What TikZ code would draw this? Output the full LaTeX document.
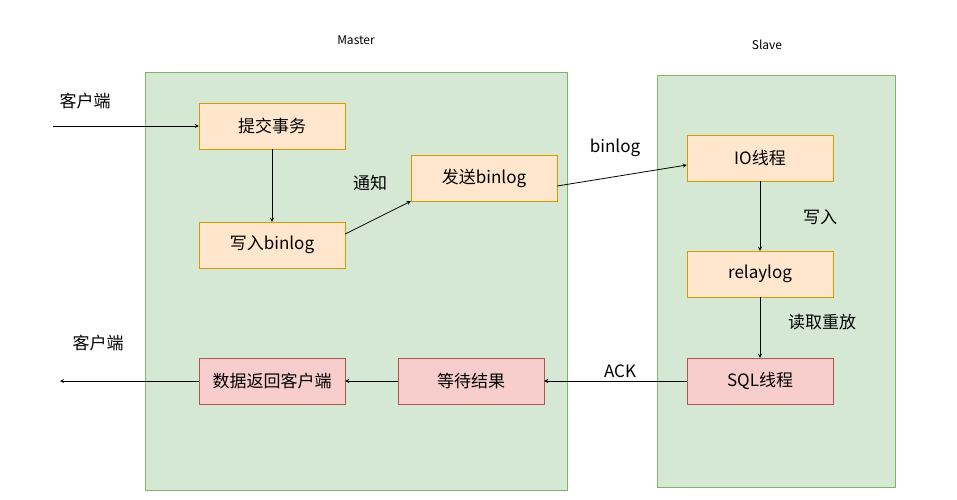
\documentclass[tikz,border=0pt]{standalone}
\usepackage{fontspec}
\setmainfont{Noto Sans CJK SC}
\usetikzlibrary{positioning}
\definecolor{orfill}{HTML}{FFE6CC}
\definecolor{ordraw}{HTML}{D79B00}
\definecolor{rdfill}{HTML}{F8CECC}
\definecolor{rddraw}{HTML}{B85450}
\definecolor{grfill}{HTML}{D5E8D4}
\definecolor{grdraw}{HTML}{82B366}
\tikzset{
  box/.style={draw=ordraw, fill=orfill, minimum width=146pt, minimum height=46pt, font=\fontsize{17}{20}\selectfont},
  redbox/.style={box, draw=rddraw, fill=rdfill},
  lab/.style={font=\fontsize{17}{20}\selectfont},
  arr/.style={->, >=stealth, thick}
}
\begin{document}
\begin{tikzpicture}[x=1pt,y=-1pt]
\useasboundingbox (0,0) rectangle (957,499);

% groups
\draw[draw=grdraw, fill=grfill, thick] (145,72) rectangle (567,490);
\draw[draw=grdraw, fill=grfill, thick] (657,75) rectangle (895,487);
\node[font=\fontsize{12}{14}\selectfont] (master) at (356,40) {Master};
\node[font=\fontsize{12}{14}\selectfont] (slave) at (767,45) {Slave};

% master
\node[box] (commit) at (272,126) {提交事务};
\node[box] (write) at (272,245) {写入binlog};
\node[box] (send) at (484,178) {发送binlog};
\node[redbox] (wait) at (471,381) {等待结果};
\node[redbox] (ret) at (272,381) {数据返回客户端};

% slave
\node[box] (io) at (760,158) {IO线程};
\node[box] (relay) at (760,274) {relaylog};
\node[redbox] (sql) at (760,381) {SQL线程};

% free ends
\coordinate (cin) at (53,126);
\coordinate (cout) at (60,381);

\node[lab] (client1) at (85,101) {客户端};
\node[lab] (client2) at (98,343) {客户端};
\node[lab] (notify) at (370,183) {通知};
\node[lab] (binlog) at (615,148) {binlog};
\node[lab] (wr) at (820,217) {写入};
\node[lab] (replay) at (822,322) {读取重放};
\node[lab] (ack) at (620,371) {ACK};

\draw[arr] (cin) -- (commit.west);
\draw[arr] (commit) -- (write);
\draw[arr] ([yshift=11pt]write.east) -- (send.south west);
\draw[arr] ([yshift=-8pt]send.east) -- ([yshift=-7pt]io.west);
\draw[arr] (io) -- (relay);
\draw[arr] (relay) -- (sql);
\draw[arr] (sql) -- (wait);
\draw[arr] (wait) -- (ret);
\draw[arr] (ret.west) -- (cout);
\end{tikzpicture}
\end{document}
